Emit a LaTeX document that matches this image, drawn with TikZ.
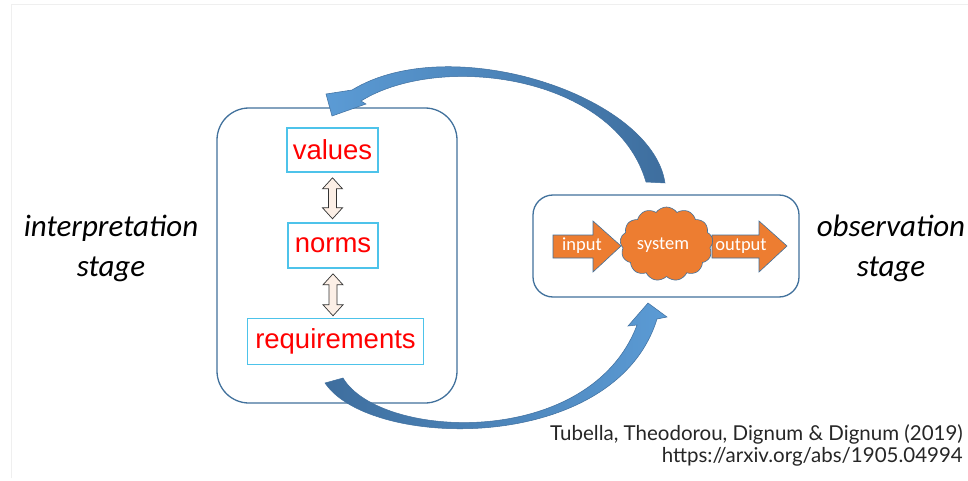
\documentclass[tikz,border=0pt]{standalone}
\usepackage{fontspec}
\usetikzlibrary{shapes.symbols,calc}
\newfontfamily\calfont{Carlito}
\newfontfamily\arifont{Liberation Sans}
\newfontfamily\citefont{Lato}
\definecolor{boxblue}{HTML}{41719C}
\definecolor{cyanbox}{HTML}{4DC3EA}
\definecolor{redtxt}{HTML}{FF0000}
\definecolor{orng}{HTML}{ED7D31}
\definecolor{arrlight}{HTML}{5B9BD5}
\definecolor{arrdark}{HTML}{3E6E9E}
\definecolor{peach}{HTML}{FCEFE6}
\definecolor{framegray}{HTML}{EFEFEF}
\tikzset{
  stagebox/.style={draw=boxblue, line width=1.3pt, rounded corners=#1, inner sep=0pt},
  termbox/.style={draw=cyanbox, line width=1.6pt, inner sep=0pt, text=redtxt, font=\arifont\fontsize{27.5}{30}\selectfont},
  dbl/.style={draw=black!80, line width=0.7pt, fill=peach},
  orarrow/.style={fill=orng, draw=boxblue, line width=0.6pt},
  wtxt/.style={text=white, font=\calfont\fontsize{18.5}{20}\selectfont, inner sep=0pt},
  stagelbl/.style={align=center, font=\calfont\itshape\fontsize{31}{40}\selectfont, inner sep=0pt},
  pics/vdbl/.style={code={
    \draw[dbl] (0,0) -- (10,11) -- (4,11) -- (4,#1-11) -- (10,#1-11) -- (0,#1)
      -- (-10,#1-11) -- (-4,#1-11) -- (-4,11) -- (-10,11) -- cycle;}}
}
\begin{document}
\begin{tikzpicture}[x=1pt,y=-1pt]
\useasboundingbox (0,0) rectangle (968,481);
\fill[white] (0,0) rectangle (968,481);
\draw[framegray, line width=0.8pt] (11,478) -- (11,4) -- (968,4);

% stage boxes
\node[stagebox=32pt, minimum width=240, minimum height=295] (left) at (337,255.5) {};
\node[stagebox=20pt, minimum width=266, minimum height=102] (right) at (666,246) {};

% terms
\node[termbox, minimum width=91, minimum height=44] (values) at (332.5,150) {values};
\node[termbox, minimum width=90, minimum height=45] (norms) at (333,245.5) {norms};
\node[termbox, minimum width=176, minimum height=46] (req) at (335.5,341.5) {requirements};

\pic at ($(values.south)+(0,5)$) {vdbl=41};
\pic at ($(norms.south)+(0,5)$) {vdbl=42};

% system
\draw[orarrow] (553,235) -- (593,235) -- (593,221) -- (621,246) -- (593,272) -- (593,258) -- (553,258) -- cycle;
\draw[orarrow] (712,235) -- (759,235) -- (759,221) -- (787,246) -- (759,272) -- (759,258) -- (712,258) -- cycle;
\node[cloud, cloud puffs=13, cloud puff arc=110, aspect=1.3, minimum width=93, minimum height=74, inner sep=0pt, fill=orng, draw=boxblue, line width=0.6pt] (sys) at (666.5,244) {};
\node[wtxt] (in) at (582,246) {input};
\node[wtxt] (systxt) at (663,245) {system};
\node[wtxt] (out) at (741,246) {output};

% curved arrows
\path[draw=arrdark, line width=0.5pt, left color=arrlight, right color=arrdark]
  (665,183) .. controls (652,95) and (450,30) .. (352,90) -- (326,94) -- (332,116) -- (366,104) -- (361,101)
  .. controls (440,52) and (615,75) .. (646,182) -- cycle;
\path[draw=arrdark, line width=0.5pt, left color=arrdark, right color=arrlight]
  (343,378) .. controls (380,440) and (590,450) .. (637,325) -- (628,326) -- (648,303) -- (667,317) -- (657,319)
  .. controls (615,455) and (370,450) .. (325,383) -- cycle;

% labels
\node[stagelbl] (interp) at (111,248) {interpretation\\stage};
\node[stagelbl] (obs) at (891,248) {observation\\stage};

\node[anchor=east, inner sep=0pt, font=\citefont\fontsize{20.5}{22}\selectfont, text=black!85] (cite1) at (963,434) {Tubella, Theodorou, Dignum \& Dignum (2019)};
\node[anchor=east, inner sep=0pt, font=\citefont\fontsize{20.5}{22}\selectfont, text=black!85] (cite2) at (963,457) {https://arxiv.org/abs/1905.04994};
\end{tikzpicture}
\end{document}
